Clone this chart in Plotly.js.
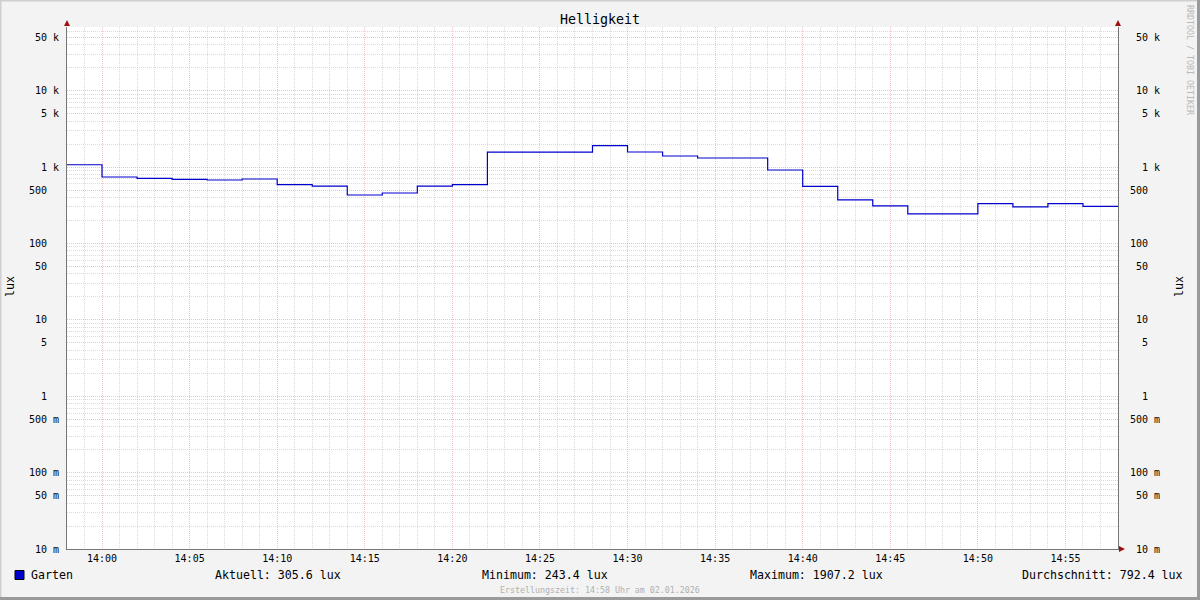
<!DOCTYPE html>
<html><head><meta charset="utf-8">
<script src="https://cdn.plot.ly/plotly-3.0.1.min.js"></script>
<style>html,body{margin:0;padding:0;background:#f3f3f3;}#c{width:1200px;height:600px;}</style>
</head><body><div id="c"></div>
<script>
const times = [
 '2026-01-02 13:58:00','2026-01-02 14:00:00','2026-01-02 14:02:00','2026-01-02 14:04:00',
 '2026-01-02 14:06:00','2026-01-02 14:08:00','2026-01-02 14:10:00','2026-01-02 14:12:00',
 '2026-01-02 14:14:00','2026-01-02 14:16:00','2026-01-02 14:18:00','2026-01-02 14:20:00',
 '2026-01-02 14:22:00','2026-01-02 14:24:00','2026-01-02 14:26:00','2026-01-02 14:28:00',
 '2026-01-02 14:30:00','2026-01-02 14:32:00','2026-01-02 14:34:00','2026-01-02 14:36:00',
 '2026-01-02 14:38:00','2026-01-02 14:40:00','2026-01-02 14:42:00','2026-01-02 14:44:00',
 '2026-01-02 14:46:00','2026-01-02 14:48:00','2026-01-02 14:50:00','2026-01-02 14:52:00',
 '2026-01-02 14:54:00','2026-01-02 14:56:00','2026-01-02 14:58:00'
];
const garten = [
 1070, 740, 710, 688, 676, 697, 587, 563, 430, 457, 563, 587,
 1570, 1570, 1570, 1907.2, 1571, 1393, 1312, 1312, 914, 557, 371, 309,
 243.4, 243.4, 331, 300, 331, 305.6, 305.6
];
const seriesName = 'Garten';
const statLabels = ['Aktuell', 'Minimum', 'Maximum', 'Durchschnitt'];
const statValues = ['305.6', '243.4', '1907.2', '792.4'];
const unit = 'lux';
const chartTitle = 'Helligkeit';
const footer = 'Erstellungszeit: 14:58 Uhr am 02.01.2026';
const watermark = 'RRDTOOL / TOBI OETIKER';
const yTickVals = [0.01,0.05,0.1,0.5,1,5,10,50,100,500,1000,5000,10000,50000];
const yTickText = ['10 m','50 m','100 m','500 m','1','5','10','50','100','500','1 k','5 k','10 k','50 k'];
const xRange = ['2026-01-02 13:58:00','2026-01-02 14:58:00'];

const NB = '\u00a0';
function padR(s){
  let t = s.indexOf(' ')>=0 ? s : s + '  ';
  while (t.length < 5) t = ' ' + t;
  return t.replace(/ /g, NB);
}
const leftText = yTickText.map(s => { let t = s.indexOf(' ')>=0 ? s : s + '  '; return t.replace(/ /g, NB); });
const rightText = yTickText.map(padR);

const minorVals = [];
for (let e = -2; e <= 4; e++) for (const m of [2,3,4,6,7,8,9]) { const v = m*Math.pow(10,e); if (v < 68000) minorVals.push(v); }

const W=1200,H=600,L=67,R=1118,T=27,B=549;
const px = x => (x-L)/(R-L);
const py = y => (B-y)/(B-T);
const MONO = 'DejaVu Sans Mono';
const majorGrid = 'rgba(225,120,120,0.45)';
const minorGrid = 'rgba(160,160,160,0.38)';
const yRange = [-2, -2 + 522/76.4];

const yBase = {
  type:'log', range:yRange, tickmode:'array', tickvals:yTickVals,
  showline:true, linecolor:'#777', linewidth:1, ticks:'', zeroline:false,
  tickfont:{family:MONO,size:10,color:'#000'}, fixedrange:true
};
const ann = (x, y, text, opts) => Object.assign({xref:'paper', yref:'paper', x:px(x), y:py(y), text, showarrow:false, borderpad:0,
  font:{family:MONO,size:11.6,color:'#000'}, xanchor:'left', yanchor:'middle'}, opts||{});
const layout = {
  width:W, height:H,
  margin:{l:L, r:W-R, t:T, b:H-B, pad:0},
  paper_bgcolor:'#f3f3f3', plot_bgcolor:'#ffffff',
  showlegend:false,
  title:{text:chartTitle, font:{family:MONO,size:13.3,color:'#000'}, x:0.5, xanchor:'center', y:1-19/H, yanchor:'middle'},
  xaxis:{
    type:'date', range:xRange, tickformat:'%H:%M', dtick:300000, tick0:'2026-01-02 14:00:00',
    showgrid:true, gridcolor:majorGrid, griddash:'1px,1px', gridwidth:1,
    minor:{dtick:60000, tick0:'2026-01-02 14:00:00', showgrid:true, gridcolor:minorGrid, griddash:'1px,1px', gridwidth:1, ticks:''},
    showline:true, linecolor:'#777', linewidth:1, ticks:'', ticklabelstandoff:0,
    tickfont:{family:MONO,size:10,color:'#000'}, zeroline:false
  },
  yaxis: Object.assign({}, yBase, {
    ticktext:leftText, side:'left', ticklabelstandoff:5,
    showgrid:true, gridcolor:majorGrid, griddash:'1px,1px', gridwidth:1,
    minor:{tickmode:'array', tickvals:minorVals, showgrid:true, gridcolor:minorGrid, griddash:'1px,1px', gridwidth:1, ticks:''}
  }),
  yaxis2: Object.assign({}, yBase, {
    ticktext:rightText, side:'right', overlaying:'y', showgrid:false, ticklabelstandoff:9
  }),
  shapes:[
    {type:'line', xref:'paper', yref:'paper', x0:px(0), x1:px(1200), y0:py(0.5), y1:py(0.5), line:{color:'#cfcfcf', width:2}},
    {type:'line', xref:'paper', yref:'paper', x0:px(0.5), x1:px(0.5), y0:py(0), y1:py(600), line:{color:'#cfcfcf', width:2}},
    {type:'line', xref:'paper', yref:'paper', x0:px(0), x1:px(1200), y0:py(598.5), y1:py(598.5), line:{color:'#9a9a9a', width:3}},
    {type:'line', xref:'paper', yref:'paper', x0:px(1198.5), x1:px(1198.5), y0:py(0), y1:py(600), line:{color:'#9a9a9a', width:3}},
    {type:'path', xref:'paper', yref:'paper', path:`M ${px(64)} ${py(26)} L ${px(70)} ${py(26)} L ${px(67)} ${py(20)} Z`, fillcolor:'#a01010', line:{width:0}},
    {type:'path', xref:'paper', yref:'paper', path:`M ${px(1115)} ${py(26)} L ${px(1121)} ${py(26)} L ${px(1118)} ${py(20)} Z`, fillcolor:'#a01010', line:{width:0}},
    {type:'path', xref:'paper', yref:'paper', path:`M ${px(1119)} ${py(546)} L ${px(1119)} ${py(552)} L ${px(1125)} ${py(549)} Z`, fillcolor:'#a01010', line:{width:0}},
    {type:'rect', xref:'paper', yref:'paper', x0:px(15), x1:px(24), y0:py(579.5), y1:py(570.5), fillcolor:'#0000cc', line:{color:'#000', width:1}}
  ],
  annotations:[
    ann(10, 287, unit, {textangle:-90, xanchor:'center'}),
    ann(1179, 287, unit, {textangle:-90, xanchor:'center'}),
    ann(30, 575, seriesName),
    ann(214, 575, `${statLabels[0]}: ${statValues[0]} ${unit}`),
    ann(481, 575, `${statLabels[1]}: ${statValues[1]} ${unit}`),
    ann(749, 575, `${statLabels[2]}: ${statValues[2]} ${unit}`),
    ann(1184, 575, `${statLabels[3]}: ${statValues[3]} ${unit}`, {xanchor:'right'}),
    ann(600, 589.5, footer, {xanchor:'center', font:{family:MONO,size:8.3,color:'#b0b0b0'}}),
    ann(1190, 60, watermark, {xanchor:'center', textangle:90, font:{family:MONO,size:8.3,color:'#b8b8b8'}})
  ]
};
const traces = [
  {x:times, y:garten, type:'scatter', mode:'lines', line:{shape:'hv', color:'#0000cc', width:1.2}, name:seriesName, hoverinfo:'skip'},
  {x:times, y:garten, type:'scatter', mode:'lines', yaxis:'y2', line:{shape:'hv', color:'rgba(0,0,0,0)', width:0}, hoverinfo:'skip', showlegend:false}
];
Plotly.newPlot('c', traces, layout, {staticPlot:true, displayModeBar:false});
</script>
</body></html>
